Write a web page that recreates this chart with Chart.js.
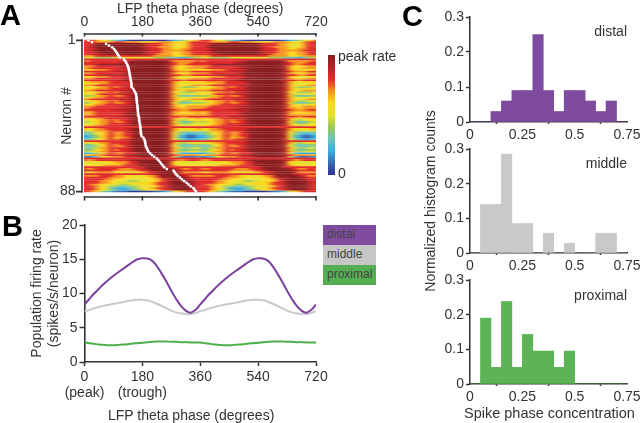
<!DOCTYPE html>
<html>
<head>
<meta charset="utf-8">
<script src="https://cdn.jsdelivr.net/npm/chart.js@4"></script>
<style>
  html, body { margin: 0; padding: 0; background: #fff; }
  #page { position: relative; width: 640px; height: 423px; overflow: hidden; font-family: "Liberation Sans", sans-serif; color: #333; }
  canvas { position: absolute; left: 0; top: 0; }
  #heatClip { position: absolute; left: 84px; top: 39px; width: 232px; height: 154px; overflow: hidden; }
  #heat { left: -84px; top: -39px; filter: url(#soft); }
  .t { position: absolute; font-size: 14px; line-height: 16px; white-space: nowrap; }
  .letter { position: absolute; font-size: 29px; font-weight: bold; line-height: 30px; color: #000; }
  .key { position: absolute; left: 323px; width: 53px; height: 20px; font-size: 12px; line-height: 19px; padding-left: 4px; box-sizing: border-box; color: #444; }
</style>
</head>
<body>
<svg width="0" height="0" style="position:absolute">
  <filter id="soft" x="0" y="0" width="100%" height="100%" color-interpolation-filters="sRGB">
    <feGaussianBlur stdDeviation="2.6 0.4"/>
  </filter>
</svg>
<div id="page">
  <div id="heatClip"><canvas id="heat" width="640" height="423"></canvas></div>
  <canvas id="heatAxes" width="640" height="423"></canvas>
  <canvas id="colorbar" width="640" height="423"></canvas>
  <canvas id="rates" width="640" height="423"></canvas>
  <canvas id="histDistal" width="640" height="423"></canvas>
  <canvas id="histMiddle" width="640" height="423"></canvas>
  <canvas id="histProximal" width="640" height="423"></canvas>

  <div class="letter" style="left:0;top:0">A</div>
  <div class="letter" style="left:2px;top:211px">B</div>
  <div class="letter" style="left:402px;top:1px">C</div>
  <div class="key" style="top:225px;background:#7f4b9f">distal</div>
  <div class="key" style="top:245px;background:#c6c6c6">middle</div>
  <div class="key" style="top:265px;background:#56ae54">proximal</div>
  <div class="t" style="left:108px;top:407px">LFP theta phase (degrees)</div>
  <div class="t" style="left:464px;top:405px;font-size:14.5px">Spike phase concentration</div>
  <div class="t" style="right:13px;top:23px">distal</div>
  <div class="t" style="right:13px;top:155px">middle</div>
  <div class="t" style="right:13px;top:287px">proximal</div>
</div>

<script>
const phaseTicks = [0, 180, 360, 540, 720];
const phaseStep = 15;

// one theta cycle, 0-345 degrees in 15 degree steps, drawn twice
const distalCycle = [8.4, 9.2, 10, 10.7, 11.4, 12, 12.6, 13.1, 13.6, 14.1, 14.6, 15, 15.15, 15.1, 14.8, 14, 12.9, 11.7, 10.4, 9.2, 8.2, 7.5, 7.2, 7.6];
const middleCycle = [7.4, 7.6, 7.85, 8.05, 8.2, 8.35, 8.5, 8.6, 8.75, 8.9, 9, 9.1, 9.1, 9, 8.8, 8.5, 8.2, 7.85, 7.5, 7.25, 7.1, 7, 7, 7.15];
const proximalCycle = [2.85, 2.75, 2.65, 2.55, 2.5, 2.45, 2.45, 2.5, 2.55, 2.6, 2.7, 2.75, 2.8, 2.9, 2.95, 3, 3, 3, 2.95, 2.95, 2.9, 2.9, 2.85, 2.85];

const histBins = [0.025, 0.075, 0.125, 0.175, 0.225, 0.275, 0.325, 0.375, 0.425, 0.475, 0.525, 0.575, 0.625, 0.675, 0.725];
const histDistal = [0, 0, 0.03, 0.06, 0.09, 0.09, 0.25, 0.09, 0.03, 0.09, 0.09, 0.06, 0.03, 0.06, 0];
const histMiddle = [0, 0.14, 0.14, 0.285, 0.085, 0.085, 0, 0.057, 0, 0.028, 0, 0, 0.057, 0.057, 0];
const histProximal = [0, 0.19, 0.048, 0.238, 0.048, 0.143, 0.095, 0.095, 0.048, 0.095, 0, 0, 0, 0, 0];
const histXTicks = [0, 0.25, 0.5, 0.75];
const histYTicks = [0, 0.1, 0.2, 0.3];

// preferred phase of each neuron, in sorted order
const peakPhase = [12, 23, 67, 76, 86, 92, 96, 100, 103, 107, 111, 123, 127, 130, 133, 135, 137, 138, 139, 140, 141, 142, 143, 144, 145, 146, 146, 147, 152, 155, 158, 160, 161, 162, 162, 163, 163, 164, 165, 165, 166, 166, 167, 167, 169, 170, 170, 171, 172, 173, 174, 174, 175, 175, 176, 177, 183, 186, 188, 189, 190, 191, 194, 196, 199, 204, 210, 217, 225, 230, 235, 239, 244, 248, 256, 277, 281, 285, 290, 297, 303, 310, 318, 324, 331, 339, 343, 347];

// rate level for each neuron over one cycle (24 bins of 15 degrees), keys as in levelKeys
const neuronRows = [
  "887654 321000 000001 234567", "887777 887776 666777 665788", "88x999 999999 x88877 656788", "8x9999 999999 x88877 656788",
  "8x9999 999999 x88777 556788", "88x999 999999 x88877 667788", "8x9999 999999 xx8877 777888", "88x999 999999 x88877 667788",
  "88xx99 999999 xx8777 667788", "778888 888888 887777 666777", "554444 555655 554443 332344", "888888 888888 888888 888888",
  "788888 88xx99 99999x 777778", "888888 8xx999 99999x 877788", "88x999 999999 99999x 877888", "778888 88xx99 99999x 766677",
  "788888 8xx999 99999x 766777", "667778 888x99 99999x 765566", "888888 xxx999 99999x 877788", "778888 88x999 99999x 766677",
  "888xxx xxx999 99999x 887788", "667778 888x99 99999x 765566", "778888 88x999 99999x 766677", "888888 xx9999 999998 887888",
  "677778 888x99 99999x 765666", "566778 888899 99999x 755566", "778888 88xx99 99999x 766677", "556778 788x99 99999x 754445",
  "667778 888x99 99999x 755566", "778888 8xxx99 99999x 766777", "556778 788x99 99999x 654445", "667888 8xxx99 99999x 755566",
  "446778 778x99 99999x 643334", "667788 888x99 99999x 755566", "788888 8xxx99 99999x 766677", "566778 788x99 99999x 754455",
  "456778 778899 99999x 643344", "667788 888x99 99999x 755566", "778888 8xxx99 99999x 766777", "788888 88xx99 99999x 776777",
  "888888 xxxx99 99999x 877788", "778888 88xx99 99999x 776777", "678888 88x999 99999x 766667", "778888 88xx99 99999x 777777",
  "888888 xxx999 999998 887888", "667788 888x99 99999x 765667", "566778 788x99 99999x 754566", "456778 778x99 99999x 643345",
  "556778 888x99 99999x 754455", "667788 88xx99 99999x 755566", "888888 888888 888888 888888", "667788 888x99 99999x 765667",
  "567778 888x99 99999x 765566", "345678 778x99 99999x 643333", "345678 778899 99999x 643223", "234678 778899 99999x 632112",
  "234678 677899 99999x 632112", "345678 788x99 99999x 643223", "888888 888x99 99999x 888888", "566778 888x99 99999x 754566",
  "345678 788x99 99999x 643344", "334678 778x99 99999x 643334", "345778 888x99 99999x 754455", "345678 788x99 99999x 643344",
  "456778 888x99 99999x 754555", "234678 778889 99999x 632222", "677788 88xx99 99999x 877777", "123567 778889 99999x 531112",
  "888888 888888 888888 888888", "778888 888x99 99999x 877888", "555666 777889 99999x 655555", "555566 677889 x9999x 655555",
  "666677 778889 99999x 766666", "888888 888888 x99998 888888", "778888 877788 x99999 x87788", "888888 777778 8x9999 9x8888",
  "667777 665566 788x99 9x7777", "888888 888888 88x999 9x8888", "777888 776655 677x99 99x877", "888887 776665 66789x 999x88",
  "888877 665555 56678x 999x88", "888776 655445 56678x 9999x8", "888776 555566 66788x 9999x8", "877665 544556 66788x 9999x8",
  "887654 433445 55678x 9999x8", "887653 222345 66788x 9999x8", "887654 322334 556788 x999x8", "876432 111000 001123 567888"
];

const levelKeys = "012345678x9";
const levelColors = ["#2e3192", "#3a68b4", "#35aee0", "#6cc5b8", "#9dcb5b", "#e4e02e", "#fdd91e", "#f79420", "#e02a2a", "#b52326", "#8a1d1f"];

const ink = "#333";
const font = { family: "'Liberation Sans', sans-serif", size: 14 };
Chart.defaults.font.family = font.family;
Chart.defaults.font.size = font.size;
Chart.defaults.color = ink;
Chart.defaults.animation = false;
Chart.defaults.responsive = false;
Chart.defaults.plugins.legend.display = false;
Chart.defaults.plugins.tooltip.enabled = false;

// every canvas covers the whole page, so the plot box is given in page pixels
function box(left, top, right, bottom, axisLeft = 0, axisBottom = 0, axisTop = 0, axisRight = 0) {
    return { padding: { left: left - axisLeft, top: top - axisTop, right: 640 - right - axisRight, bottom: 423 - bottom - axisBottom } };
}
function fixSize(size) {
    return scale => {
        scale.paddingLeft = scale.paddingRight = scale.paddingTop = scale.paddingBottom = 0;
        if (scale.isHorizontal()) scale.height = size; else scale.width = size;
    };
}
function fixTicks(values) {
    return scale => { scale.ticks = values.map(value => ({ value })); };
}
const plain = value => String(+value.toFixed(2));

// A: heat map cells as floating bars, one dataset per phase bin.
// two bins run past each end so the soft filter has no white edge, #heatClip trims them
const heatSets = [];
for (let bin = -2; bin < 50; bin++) {
    const start = bin * phaseStep;
    const rows = neuronRows.map(row => row.replace(/ /g, ""));
    heatSets.push({
        type: "bar",
        indexAxis: "y",
        grouped: false,
        barPercentage: 1.12,
        categoryPercentage: 1,
        data: rows.map((row, i) => ({ x: [start, start + phaseStep + 1], y: i + 1 })),
        backgroundColor: rows.map(row => levelColors[levelKeys.indexOf(row[(bin + 24) % 24])])
    });
}
new Chart(document.getElementById("heat"), {
    data: { datasets: heatSets },
    options: {
        layout: box(74.83, 39.5, 325.67, 192.5),
        scales: {
            x: { type: "linear", min: -30, max: 750, display: false, offset: false },
            y: { type: "linear", min: 0.5, max: 88.5, reverse: true, display: false, offset: false }
        }
    }
});

// axes of A stand off from the map, so their lines are drawn from the scales
const offsetAxes = {
    id: "offsetAxes",
    afterDraw(chart) {
        const { ctx, scales: { x, y } } = chart;
        ctx.save();
        ctx.strokeStyle = ink;
        ctx.lineWidth = 1.6;
        ctx.beginPath();
        ctx.moveTo(x.getPixelForValue(0), 34); ctx.lineTo(x.getPixelForValue(720), 34);
        ctx.moveTo(x.getPixelForValue(0), 197); ctx.lineTo(x.getPixelForValue(720), 197);
        phaseTicks.forEach(t => {
            const px = x.getPixelForValue(t);
            ctx.moveTo(px, 33); ctx.lineTo(px, 36.5);
            ctx.moveTo(px, 196); ctx.lineTo(px, 200.5);
        });
        ctx.moveTo(82, y.getPixelForValue(1) - 1); ctx.lineTo(82, y.getPixelForValue(88) + 1);
        [1, 88].forEach(t => {
            const py = y.getPixelForValue(t);
            ctx.moveTo(76, py); ctx.lineTo(82, py);
        });
        ctx.stroke();
        ctx.restore();
    }
};
new Chart(document.getElementById("heatAxes"), {
    type: "scatter",
    data: {
        datasets: [{
            data: peakPhase.map((phase, i) => ({ x: phase, y: i + 1 })),
            pointRadius: 1.4,
            pointBackgroundColor: "#fff",
            pointBorderWidth: 0
        }]
    },
    plugins: [offsetAxes],
    options: {
        layout: box(84.5, 39.5, 316, 192.5, 30, 0, 39),
        scales: {
            x: {
                type: "linear", position: "top", min: 0, max: 720,
                afterBuildTicks: fixTicks(phaseTicks), afterFit: fixSize(39),
                grid: { display: false, drawTicks: false }, border: { display: false },
                ticks: { padding: 9, maxRotation: 0, autoSkip: false },
                title: { display: true, text: "LFP theta phase (degrees)", color: ink, font, padding: 0 }
            },
            y: {
                type: "linear", min: 0.5, max: 88.5, reverse: true,
                afterBuildTicks: fixTicks([1, 88]), afterFit: fixSize(30),
                grid: { display: false, drawTicks: false }, border: { display: false },
                ticks: { padding: 9, autoSkip: false },
                title: { display: true, text: "Neuron #", color: ink, font, padding: 4 }
            }
        }
    }
});

// colour bar
new Chart(document.getElementById("colorbar"), {
    type: "bar",
    data: {
        labels: [""],
        datasets: [{
            data: [1],
            barPercentage: 1,
            categoryPercentage: 1,
            backgroundColor(ctx) {
                const area = ctx.chart.chartArea;
                if (!area) return levelColors[0];
                const g = ctx.chart.ctx.createLinearGradient(0, area.bottom, 0, area.top);
                levelColors.forEach((c, i) => g.addColorStop(i / (levelColors.length - 1), c));
                return g;
            }
        }]
    },
    options: {
        layout: box(328, 55, 335, 175, 0, 0, 0, 70),
        scales: {
            x: { display: false },
            y: {
                position: "right", min: 0, max: 1,
                afterBuildTicks: fixTicks([0.01, 0.985]), afterFit: fixSize(70),
                grid: { display: false, drawTicks: false }, border: { display: false },
                ticks: { padding: 3, autoSkip: false, callback: v => (v > 0.5 ? "peak rate" : "0") }
            }
        }
    }
});

// B: population rate
const twoCycles = cycle => [...cycle, ...cycle, cycle[0]];
const phases = twoCycles(distalCycle).map((_, i) => i * phaseStep);
const rateLine = (values, color) => ({
    data: twoCycles(values),
    borderColor: color,
    borderWidth: 2,
    pointRadius: 0,
    tension: 0.4
});
new Chart(document.getElementById("rates"), {
    type: "line",
    data: {
        labels: phases,
        datasets: [rateLine(distalCycle, "#7a429c"), rateLine(middleCycle, "#c9c9cd"), rateLine(proximalCycle, "#4cb04a")]
    },
    options: {
        layout: box(84.5, 225, 316, 362, 56, 40),
        scales: {
            x: {
                type: "linear", min: 0, max: 720,
                afterBuildTicks: fixTicks(phaseTicks), afterFit: fixSize(40),
                grid: { drawOnChartArea: false, tickLength: 4, tickColor: ink, tickWidth: 1.5 },
                border: { color: ink, width: 1.6 },
                ticks: {
                    padding: 3, maxRotation: 0, autoSkip: false, color: ink,
                    font: { lineHeight: 1.14 },
                    callback: v => (v === 0 ? ["0", "(peak)"] : v === 180 ? ["180", "(trough)"] : String(v))
                }
            },
            y: {
                min: 0, max: 20,
                afterBuildTicks: fixTicks([0, 5, 10, 15, 20]), afterFit: fixSize(56),
                grid: { drawOnChartArea: false, tickLength: 5, tickColor: ink, tickWidth: 1.5 },
                border: { color: ink, width: 1.6 },
                ticks: { padding: 2, autoSkip: false, color: ink },
                title: { display: true, text: ["Population firing rate", "(spikes/s/neuron)"], color: ink, font, padding: 0 }
            }
        }
    }
});

// C: histograms
function histogram(id, values, color, top, bottom, yTitle) {
    new Chart(document.getElementById(id), {
        type: "bar",
        data: {
            labels: histBins,
            datasets: [{ data: values, backgroundColor: color, barPercentage: 1, categoryPercentage: 1 }]
        },
        options: {
            layout: box(470, top, 627, bottom, 47, 20),
            scales: {
                x: {
                    type: "linear", min: 0, max: 0.75, offset: false,
                    afterBuildTicks: fixTicks(histXTicks), afterFit: fixSize(20),
                    grid: { drawOnChartArea: false, tickLength: 2, tickColor: ink, tickWidth: 1.5 },
                    border: { color: ink, width: 1.5 },
                    ticks: { padding: 3, maxRotation: 0, autoSkip: false, color: ink, callback: plain }
                },
                y: {
                    min: 0, max: 0.3,
                    afterBuildTicks: fixTicks(histYTicks), afterFit: fixSize(47),
                    grid: { drawOnChartArea: false, tickLength: 4, tickColor: ink, tickWidth: 1.5 },
                    border: { color: ink, width: 1.5 },
                    ticks: { padding: 2, autoSkip: false, color: ink, callback: plain },
                    title: { display: !!yTitle, text: yTitle, color: ink, font, padding: 0 }
                }
            }
        }
    });
}
histogram("histDistal", histDistal, "#7f4b9f", 17, 122);
histogram("histMiddle", histMiddle, "#c9c9c9", 149, 253, "Normalized histogram counts");
histogram("histProximal", histProximal, "#5cb456", 280, 384);
</script>
</body>
</html>
